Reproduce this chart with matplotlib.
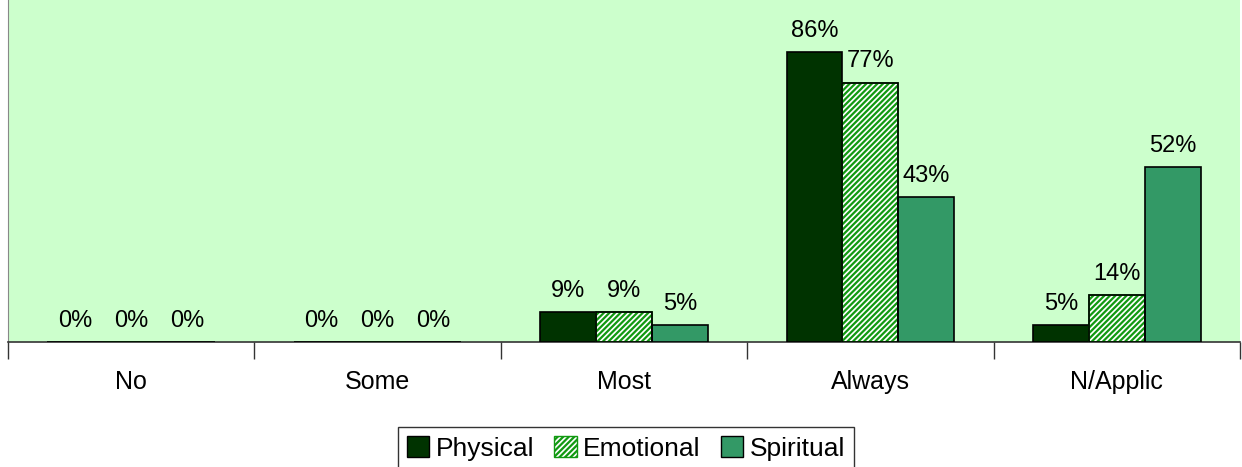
import numpy as np
import matplotlib.pyplot as plt
from matplotlib.ticker import FixedLocator
from matplotlib.patches import Patch

plt.rcParams['font.family'] = ['Liberation Sans', 'DejaVu Sans']
plt.rcParams['hatch.linewidth'] = 1.6

categories = ['No', 'Some', 'Most', 'Always', 'N/Applic']
series = ['Physical', 'Emotional', 'Spiritual']
physical = [0.00, 0.00, 0.09, 0.86, 0.05]
emotional = [0.00, 0.00, 0.09, 0.77, 0.14]
spiritual = [0.00, 0.00, 0.05, 0.43, 0.52]

fig = plt.figure(figsize=(12.42, 4.67), dpi=100)
ax = fig.add_axes([8 / 1242, 125 / 467, 1232 / 1242, 342 / 467])
ax.set_facecolor('#CCFFCC')

x = np.arange(len(categories))
w = 0.227
styles = [
    dict(color='#003300', hatch=None),
    dict(color='white', hatch='//////'),
    dict(color='#339966', hatch=None),
]
for i, (vals, st) in enumerate(zip([physical, emotional, spiritual], styles)):
    pos = x + (i - 1) * w
    b = ax.bar(pos, vals, w, color=st['color'], hatch=st['hatch'],
               edgecolor='black', linewidth=1.2, label=series[i], zorder=3)
    if st['hatch']:
        for p in b:
            p.set_edgecolor('#119911')
        # outline in black on top of the hatch
        ax.bar(pos, vals, w, fill=False, edgecolor='black', linewidth=1.2, zorder=4)
    for xi, v in zip(pos, vals):
        ax.text(xi, v + 0.03, f'{round(v * 100):.0f}%', ha='center', va='bottom',
                fontsize=17, color='black', zorder=5)

ax.set_xlim(-0.5, len(categories) - 0.5)
ax.set_ylim(0, 1.015)
ax.set_yticks([])
ax.set_xticks(x)
ax.set_xticklabels(categories, fontsize=18)
ax.tick_params(axis='x', which='major', length=0, pad=20)
ax.xaxis.set_minor_locator(FixedLocator(np.arange(-0.5, len(categories), 1)))
ax.tick_params(axis='x', which='minor', length=12, width=1, color='#333333', direction='out')
for s in ['top', 'right']:
    ax.spines[s].set_visible(False)
ax.spines['left'].set_color('#888888')
ax.spines['bottom'].set_color('#333333')
ax.spines['bottom'].set_linewidth(1.2)

handles = [
    Patch(facecolor='#003300', edgecolor='black', label='Physical'),
    Patch(facecolor='white', edgecolor='#119911', hatch='//////', label='Emotional'),
    Patch(facecolor='#339966', edgecolor='black', label='Spiritual'),
]
leg = fig.legend(handles=handles, loc='lower center', bbox_to_anchor=(626 / 1242, -0.035),
                 ncol=3, fontsize=19, frameon=True, fancybox=False, edgecolor='black',
                 handlelength=0.85, handleheight=0.85, handletextpad=0.25, columnspacing=0.75,
                 borderpad=0.35, borderaxespad=0.5)
leg.get_frame().set_linewidth(1.0)

fig.savefig('out.png', dpi=100, facecolor='white')
